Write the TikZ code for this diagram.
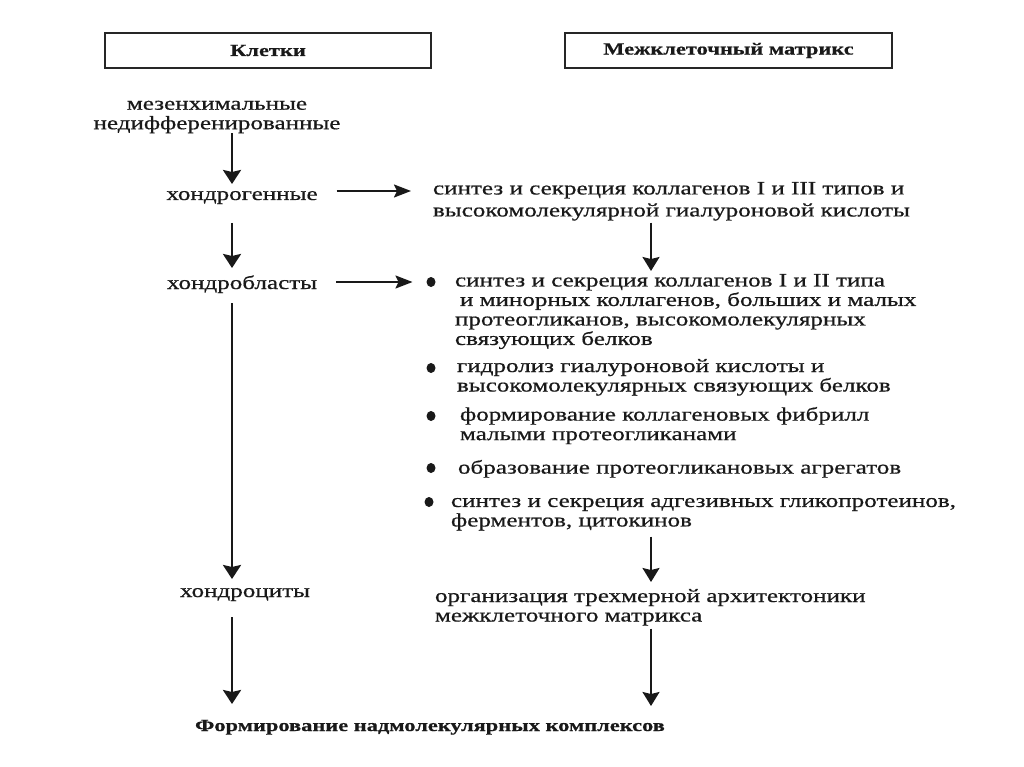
\documentclass[tikz,border=0pt]{standalone}
\usepackage{fontspec}
\setmainfont[FakeStretch=1.32,FakeBold=0.6]{Liberation Serif}
\usetikzlibrary{arrows.meta,shapes.geometric}
\begin{document}
\begin{tikzpicture}[x=1pt,y=-1pt,
  every node/.style={inner sep=0pt,outer sep=0pt,text=black!90},
  txt/.style={font=\fontsize{19}{19.5}\selectfont,align=left,anchor=north west},
  ctxt/.style={font=\fontsize{19}{19.5}\selectfont,align=center},
  one/.style={ctxt,text height=10pt,text depth=4pt},
  hdr/.style={draw=black!85,line width=1.6pt,minimum height=35pt,font=\bfseries\fontsize{17}{19}\selectfont},
  arr/.style={draw=black!90,line width=2.6pt,-{Stealth[length=14pt,width=18pt,inset=2pt]}},
  arrthin/.style={draw=black!90,line width=1.8pt,-{Stealth[length=14pt,width=17pt,inset=2pt]}},
  harr/.style={draw=black!90,line width=2pt,-{Stealth[length=17pt,width=13pt,inset=3pt]}},
  bul/.style={ellipse,fill=black!90,minimum width=9pt,minimum height=10pt}]
\useasboundingbox (0,0) rectangle (1024,767);
\fill[white] (0,0) rectangle (1024,767);
% headers
\node[hdr,minimum width=326pt] (cells) at (268,50.5) {Клетки};
\node[hdr,minimum width=327pt] (matrix) at (728.5,50.5) {Межклеточный матрикс};
% columns
\coordinate (colL) at (232,0);
\coordinate (colR) at (651,0);
% left column
\node[ctxt] (mes) at (217,117) {мезенхимальные\\недифференированные};
\node[one] (hg) at (242,197) {хондрогенные};
\node[one] (hb) at (242,286) {хондробласты};
\node[one] (hc) at (245,594) {хондроциты};
\node[font=\bfseries\fontsize{17}{19}\selectfont,text height=10pt,text depth=4pt] (fin) at (430,728) {Формирование надмолекулярных комплексов};
% right column
\node[txt,font=\fontsize{19}{22}\selectfont] (s1) at (433,182) {синтез и секреция коллагенов I и III типов и\\высокомолекулярной гиалуроновой кислоты};
\node[txt] (b1) at (455,274) {синтез и секреция коллагенов I и II типа\\\hspace*{5pt}и минорных коллагенов, больших и малых\\протеогликанов, высокомолекулярных\\связующих белков};
\node[txt] (b2) at (457,359) {гидролиз гиалуроновой кислоты и\\высокомолекулярных связующих белков};
\node[txt] (b3) at (460,407) {формирование коллагеновых фибрилл\\малыми протеогликанами};
\node[txt] (b4) at (458,460) {образование протеогликановых агрегатов};
\node[txt] (b5) at (451,498) {синтез и секреция адгезивных гликопротеинов,\\ферментов, цитокинов};
\node[txt] (org) at (435,589) {организация трехмерной архитектоники\\межклеточного матрикса};
% bullets
\node[bul] (d1) at (431,282) {};
\node[bul] (d2) at (431,368) {};
\node[bul] (d3) at (431,416) {};
\node[bul] (d4) at (431,468) {};
\node[bul] (d5) at (429,502) {};
% left arrows
\draw[arr,shorten >=6pt] (mes.south -| colL) -- (hg.north -| colL);
\draw[arr,shorten <=19pt,shorten >=11pt] (hg.south -| colL) -- (hb.north -| colL);
\draw[arr,shorten <=10pt,shorten >=8pt] (hb.south -| colL) -- (hc.north -| colL);
\draw[arr,shorten <=16pt,shorten >=17pt] (hc.south -| colL) -- (fin.north -| colL);
% horizontal arrows
\draw[harr,shorten <=19pt,shorten >=22pt] ([yshift=6pt]hg.east) -- ([yshift=6pt]hg.east -| s1.west);
\draw[harr,shorten <=19pt,shorten >=14pt] ([yshift=4pt]hb.east) -- ([yshift=4pt]hb.east -| d1.west);
% right arrows
\draw[arrthin,shorten <=2pt,shorten >=3pt] (s1.south -| colR) -- (b1.north -| colR);
\draw[arrthin,shorten <=6pt,shorten >=7pt] (b5.south -| colR) -- (org.north -| colR);
\draw[arrthin,shorten <=3pt,shorten >=15pt] (org.south -| colR) -- (fin.north -| colR);
\end{tikzpicture}
\end{document}
